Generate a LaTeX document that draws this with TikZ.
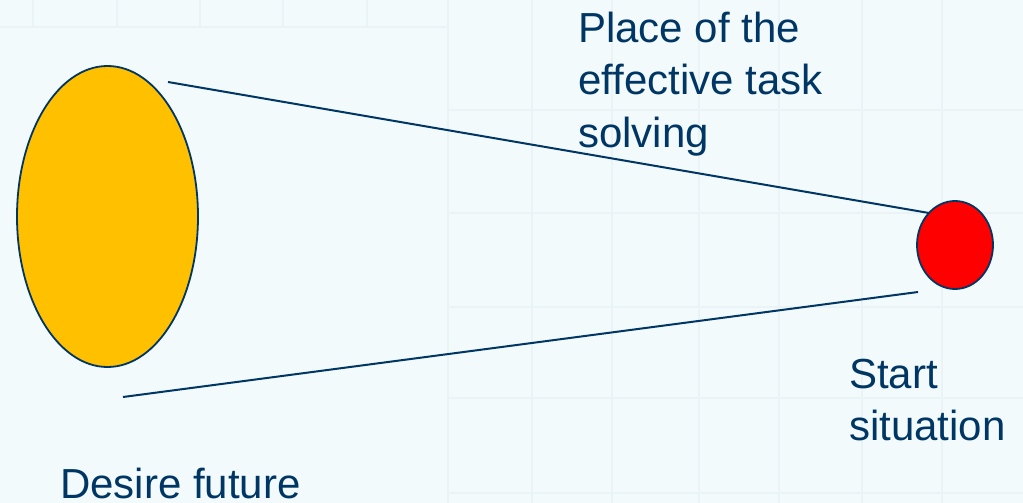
\documentclass[tikz,border=0pt]{standalone}
\usepackage{fontspec}
\setmainfont{Liberation Sans}
\usetikzlibrary{shapes.geometric}
\definecolor{navy}{RGB}{0,54,100}
\definecolor{bgc}{RGB}{242,250,252}
\definecolor{gridc}{RGB}{234,243,246}
\definecolor{sun}{RGB}{255,192,0}
\definecolor{startred}{RGB}{255,0,0}
\tikzset{
  lbl/.style={anchor=base west, inner sep=0pt, text=navy, font=\fontsize{42}{52}\selectfont},
  ray/.style={draw=navy, line width=2pt},
  faint/.style={draw=gridc, line width=1.5pt}
}
\begin{document}
\begin{tikzpicture}[x=1pt,y=-1pt]
\fill[bgc] (0,0) rectangle (1023,503);
\useasboundingbox (0,0) rectangle (1023,503);
% faint background grid
\foreach \x in {33,117,200,283,367} \draw[faint] (\x,0) -- (\x,27);
\draw[faint] (0,27) -- (448,27);
\draw[faint] (448,0) -- (448,503);
\foreach \x in {532,612,699,779,862,942} \draw[faint] (\x,0) -- (\x,503);
\foreach \y in {110,213,307,398,493} \draw[faint] (448,\y) -- (1023,\y);
% shapes
\node[draw=navy, line width=1.8pt, fill=sun, ellipse, minimum width=181pt, minimum height=301pt, inner sep=0pt] (future) at (107.5,216.5) {};
\node[draw=navy, line width=1.8pt, fill=startred, ellipse, minimum width=76pt, minimum height=88pt, inner sep=0pt] (start) at (955,245) {};
% rays
\coordinate (t1) at (168,82);
\coordinate (b1) at (123,397);
\coordinate (t2) at (929,213);
\coordinate (b2) at (918,292);
\draw[ray] (t1) -- (t2);
\draw[ray] (b1) -- (b2);
% labels
\node[lbl] (p1) at (578,43) {Place of the};
\node[lbl] (p2) at (578,95) {effective task};
\node[lbl] (p3) at (578,147) {solving};
\node[lbl] (s1) at (849,388) {Start};
\node[lbl] (s2) at (849,440) {situation};
\node[lbl] (d1) at (60,498) {Desire future};
\end{tikzpicture}
\end{document}
